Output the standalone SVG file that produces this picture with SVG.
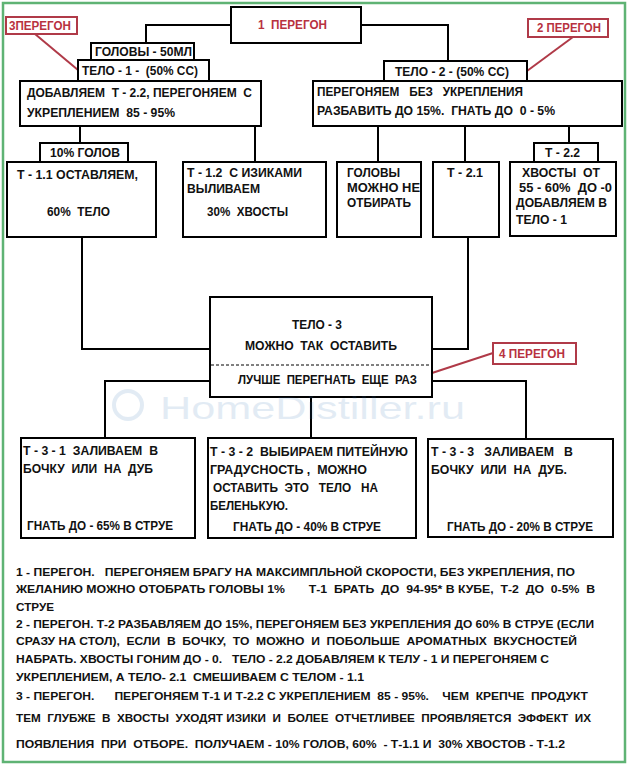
<svg xmlns="http://www.w3.org/2000/svg" width="631" height="768" viewBox="0 0 631 768">
<style>
.bx{fill:#fff;stroke:#000;stroke-width:2}
.rb{fill:#fff;stroke:#b03a48;stroke-width:2}
.t{font-family:"Liberation Sans",Arial,sans-serif;font-weight:bold;font-size:12px;fill:#111;white-space:pre}
.rt{font-family:"Liberation Sans",Arial,sans-serif;font-weight:bold;font-size:12px;fill:#b8323f;white-space:pre}
.p{font-family:"Liberation Sans",Arial,sans-serif;font-weight:bold;font-size:11.5px;fill:#111;white-space:pre}
.c{fill:none;stroke:#000;stroke-width:2}
.rl{fill:none;stroke:#b03a48;stroke-width:2}
</style>
<rect x="0" y="0" width="631" height="768" fill="#fff"/>
<rect x="3" y="3" width="622" height="759" fill="none" stroke="#5fb374" stroke-width="2.5"/>

<g id="connectors">
<polyline class="c" points="231,25 146,25 146,43"/>
<polyline class="c" points="361,25 448,25 448,61"/>
<line class="c" x1="80" y1="126" x2="80" y2="143"/>
<line class="c" x1="255" y1="126" x2="255" y2="162"/>
<line class="c" x1="378" y1="126" x2="378" y2="162"/>
<line class="c" x1="465" y1="126" x2="465" y2="162"/>
<line class="c" x1="569" y1="126" x2="569" y2="143"/>
<polyline class="c" points="82,237 82,349 210,349"/>
<polyline class="c" points="468,237 468,349 432,349"/>
<polyline class="c" points="210,381 105,381 105,438"/>
<polyline class="c" points="432,381 526,381 526,438"/>
<line class="c" x1="311" y1="397" x2="311" y2="438"/>
<line class="rl" x1="35" y1="34" x2="78" y2="70"/>
<line class="rl" x1="573" y1="37" x2="527" y2="71"/>
<line class="rl" x1="493" y1="353" x2="432" y2="373"/>
</g>

<g id="label-1">
<rect class="bx" x="231" y="7" width="130" height="36"/>
<text class="rt" x="258" y="29" textLength="69" lengthAdjust="spacingAndGlyphs">1  ПЕРЕГОН</text>
</g>
<g id="label-3">
<rect class="rb" x="6" y="17" width="71" height="17"/>
<text class="rt" x="9" y="30" textLength="62" lengthAdjust="spacingAndGlyphs">3ПЕРЕГОН</text>
</g>
<g id="label-2">
<rect class="rb" x="528" y="19" width="80" height="18"/>
<text class="rt" x="537" y="32" textLength="64" lengthAdjust="spacingAndGlyphs">2 ПЕРЕГОН</text>
</g>
<g id="label-4">
<rect class="rb" x="493" y="343" width="83" height="21"/>
<text class="rt" x="499" y="358" textLength="66" lengthAdjust="spacingAndGlyphs">4 ПЕРЕГОН</text>
</g>

<g id="golovy-50">
<rect class="bx" x="91" y="43" width="103" height="17"/>
<text class="t" x="95" y="56" textLength="97" lengthAdjust="spacingAndGlyphs">ГОЛОВЫ - 50МЛ</text>
</g>
<g id="telo-1">
<rect class="bx" x="78" y="60" width="131" height="21"/>
<text class="t" x="82" y="75" textLength="116" lengthAdjust="spacingAndGlyphs">ТЕЛО - 1 -  (50% СС)</text>
</g>
<g id="dobavlyaem">
<rect class="bx" x="20" y="81" width="241" height="45"/>
<text class="t" x="27" y="97" textLength="225" lengthAdjust="spacingAndGlyphs">ДОБАВЛЯЕМ  Т - 2.2, ПЕРЕГОНЯЕМ  С</text>
<text class="t" x="27" y="117" textLength="148" lengthAdjust="spacingAndGlyphs">УКРЕПЛЕНИЕМ  85 - 95%</text>
</g>
<g id="telo-2">
<rect class="bx" x="384" y="61" width="143" height="20"/>
<text class="t" x="395" y="76" textLength="114" lengthAdjust="spacingAndGlyphs">ТЕЛО - 2 - (50% СС)</text>
</g>
<g id="peregonyaem">
<rect class="bx" x="313" y="81" width="309" height="45"/>
<text class="t" x="317" y="96" textLength="206" lengthAdjust="spacingAndGlyphs">ПЕРЕГОНЯЕМ   БЕЗ   УКРЕПЛЕНИЯ</text>
<text class="t" x="317" y="115" textLength="238" lengthAdjust="spacingAndGlyphs">РАЗБАВИТЬ ДО 15%.  ГНАТЬ ДО  0 - 5%</text>
</g>

<g id="golov-10">
<rect class="bx" x="40" y="143" width="88" height="19"/>
<text class="t" x="50" y="157" textLength="70" lengthAdjust="spacingAndGlyphs">10% ГОЛОВ</text>
</g>
<g id="t-1-1">
<rect class="bx" x="7" y="162" width="149" height="75"/>
<text class="t" x="17" y="179" textLength="121" lengthAdjust="spacingAndGlyphs">Т - 1.1 ОСТАВЛЯЕМ,</text>
<text class="t" x="47" y="216" textLength="63" lengthAdjust="spacingAndGlyphs">60%  ТЕЛО</text>
</g>
<g id="t-1-2">
<rect class="bx" x="183" y="162" width="143" height="75"/>
<text class="t" x="187" y="177" textLength="115" lengthAdjust="spacingAndGlyphs">Т - 1.2  С ИЗИКАМИ</text>
<text class="t" x="187" y="193" textLength="73" lengthAdjust="spacingAndGlyphs">ВЫЛИВАЕМ</text>
<text class="t" x="207" y="216" textLength="81" lengthAdjust="spacingAndGlyphs">30%  ХВОСТЫ</text>
</g>
<g id="golovy-mozhno">
<rect class="bx" x="337" y="162" width="84" height="75"/>
<text class="t" x="347" y="177" textLength="53" lengthAdjust="spacingAndGlyphs">ГОЛОВЫ</text>
<text class="t" x="347" y="192" textLength="73" lengthAdjust="spacingAndGlyphs">МОЖНО НЕ</text>
<text class="t" x="347" y="207" textLength="64" lengthAdjust="spacingAndGlyphs">ОТБИРАТЬ</text>
</g>
<g id="t-2-1">
<rect class="bx" x="433" y="162" width="66" height="75"/>
<text class="t" x="447" y="177" textLength="36" lengthAdjust="spacingAndGlyphs">Т - 2.1</text>
</g>
<g id="t-2-2-label">
<rect class="bx" x="534" y="143" width="64" height="19"/>
<text class="t" x="545" y="157" textLength="35" lengthAdjust="spacingAndGlyphs">Т - 2.2</text>
</g>
<g id="t-2-2">
<rect class="bx" x="510" y="162" width="106" height="74"/>
<text class="t" x="522" y="177" textLength="78" lengthAdjust="spacingAndGlyphs">ХВОСТЫ  ОТ</text>
<text class="t" x="519" y="192" textLength="93" lengthAdjust="spacingAndGlyphs">55 - 60%  ДО -0</text>
<text class="t" x="516" y="207" textLength="91" lengthAdjust="spacingAndGlyphs">ДОБАВЛЯЕМ В</text>
<text class="t" x="516" y="224" textLength="51" lengthAdjust="spacingAndGlyphs">ТЕЛО - 1</text>
</g>

<g id="telo-3">
<rect class="bx" x="210" y="297" width="222" height="100"/>
<text class="t" x="292" y="329" textLength="50" lengthAdjust="spacingAndGlyphs">ТЕЛО - 3</text>
<text class="t" x="245" y="350" textLength="152" lengthAdjust="spacingAndGlyphs">МОЖНО  ТАК  ОСТАВИТЬ</text>
<line x1="211" y1="365" x2="431" y2="365" stroke="#000" stroke-width="1" stroke-dasharray="3,2"/>
<text class="t" x="238" y="384" textLength="179" lengthAdjust="spacingAndGlyphs">ЛУЧШЕ  ПЕРЕГНАТЬ  ЕЩЕ  РАЗ</text>
</g>

<g id="t-3-1">
<rect class="bx" x="21" y="438" width="174" height="100"/>
<text class="t" x="23" y="455" textLength="135" lengthAdjust="spacingAndGlyphs">Т - 3 - 1  ЗАЛИВАЕМ  В</text>
<text class="t" x="23" y="473" textLength="130" lengthAdjust="spacingAndGlyphs">БОЧКУ  ИЛИ  НА  ДУБ</text>
<text class="t" x="27" y="530" textLength="146" lengthAdjust="spacingAndGlyphs">ГНАТЬ ДО - 65% В СТРУЕ</text>
</g>
<g id="t-3-2">
<rect class="bx" x="208" y="438" width="208" height="100"/>
<text class="t" x="210" y="456" textLength="198" lengthAdjust="spacingAndGlyphs">Т - 3 - 2  ВЫБИРАЕМ ПИТЕЙНУЮ</text>
<text class="t" x="210" y="474" textLength="157" lengthAdjust="spacingAndGlyphs">ГРАДУСНОСТЬ ,  МОЖНО</text>
<text class="t" x="213" y="492" textLength="165" lengthAdjust="spacingAndGlyphs">ОСТАВИТЬ  ЭТО   ТЕЛО   НА</text>
<text class="t" x="210" y="510" textLength="78" lengthAdjust="spacingAndGlyphs">БЕЛЕНЬКУЮ.</text>
<text class="t" x="233" y="531" textLength="148" lengthAdjust="spacingAndGlyphs">ГНАТЬ ДО - 40% В СТРУЕ</text>
</g>
<g id="t-3-3">
<rect class="bx" x="428" y="439" width="185" height="98"/>
<text class="t" x="431" y="456" textLength="142" lengthAdjust="spacingAndGlyphs">Т - 3 - 3   ЗАЛИВАЕМ   В</text>
<text class="t" x="431" y="474" textLength="136" lengthAdjust="spacingAndGlyphs">БОЧКУ  ИЛИ  НА  ДУБ.</text>
<text class="t" x="447" y="531" textLength="146" lengthAdjust="spacingAndGlyphs">ГНАТЬ ДО - 20% В СТРУЕ</text>
</g>

<g id="notes">
<text class="p" x="16" y="576" textLength="559" lengthAdjust="spacingAndGlyphs">1 - ПЕРЕГОН.   ПЕРЕГОНЯЕМ БРАГУ НА МАКСИМПЛЬНОЙ СКОРОСТИ, БЕЗ УКРЕПЛЕНИЯ, ПО</text>
<text class="p" x="16" y="593" textLength="579" lengthAdjust="spacingAndGlyphs">ЖЕЛАНИЮ МОЖНО ОТОБРАТЬ ГОЛОВЫ 1%       Т-1  БРАТЬ  ДО  94-95* В КУБЕ,  Т-2  ДО  0-5%  В</text>
<text class="p" x="16" y="611" textLength="38" lengthAdjust="spacingAndGlyphs">СТРУЕ</text>
<text class="p" x="16" y="628" textLength="578" lengthAdjust="spacingAndGlyphs">2 - ПЕРЕГОН. Т-2 РАЗБАВЛЯЕМ ДО 15%, ПЕРЕГОНЯЕМ БЕЗ УКРЕПЛЕНИЯ ДО 60% В СТРУЕ (ЕСЛИ</text>
<text class="p" x="16" y="645" textLength="561" lengthAdjust="spacingAndGlyphs">СРАЗУ НА СТОЛ),  ЕСЛИ  В  БОЧКУ,  ТО  МОЖНО  И  ПОБОЛЬШЕ  АРОМАТНЫХ  ВКУСНОСТЕЙ</text>
<text class="p" x="16" y="663" textLength="533" lengthAdjust="spacingAndGlyphs">НАБРАТЬ. ХВОСТЫ ГОНИМ ДО - 0.   ТЕЛО - 2.2 ДОБАВЛЯЕМ К ТЕЛУ - 1 И ПЕРЕГОНЯЕМ С</text>
<text class="p" x="16" y="681" textLength="348" lengthAdjust="spacingAndGlyphs">УКРЕПЛЕНИЕМ, А ТЕЛО- 2.1  СМЕШИВАЕМ С ТЕЛОМ - 1.1</text>
<text class="p" x="16" y="700" textLength="572" lengthAdjust="spacingAndGlyphs">3 - ПЕРЕГОН.      ПЕРЕГОНЯЕМ Т-1 И Т-2.2 С УКРЕПЛЕНИЕМ  85 - 95%.    ЧЕМ  КРЕПЧЕ  ПРОДУКТ</text>
<text class="p" x="16" y="722" textLength="575" lengthAdjust="spacingAndGlyphs">ТЕМ  ГЛУБЖЕ  В  ХВОСТЫ  УХОДЯТ ИЗИКИ  И  БОЛЕЕ  ОТЧЕТЛИВЕЕ  ПРОЯВЛЯЕТСЯ  ЭФФЕКТ  ИХ</text>
<text class="p" x="16" y="748" textLength="549" lengthAdjust="spacingAndGlyphs">ПОЯВЛЕНИЯ  ПРИ  ОТБОРЕ.  ПОЛУЧАЕМ - 10% ГОЛОВ, 60%  - Т-1.1 И  30% ХВОСТОВ - Т-1.2</text>
</g>

<g id="watermark" opacity="0.13">
<circle cx="128" cy="405" r="14" fill="none" stroke="#2a6fb0" stroke-width="4"/>
<text x="160" y="419" font-family="'Liberation Sans',Arial,sans-serif" font-size="32" fill="#2a6fb0" textLength="305" lengthAdjust="spacingAndGlyphs">HomeDistiller.ru</text>
</g>
</svg>
